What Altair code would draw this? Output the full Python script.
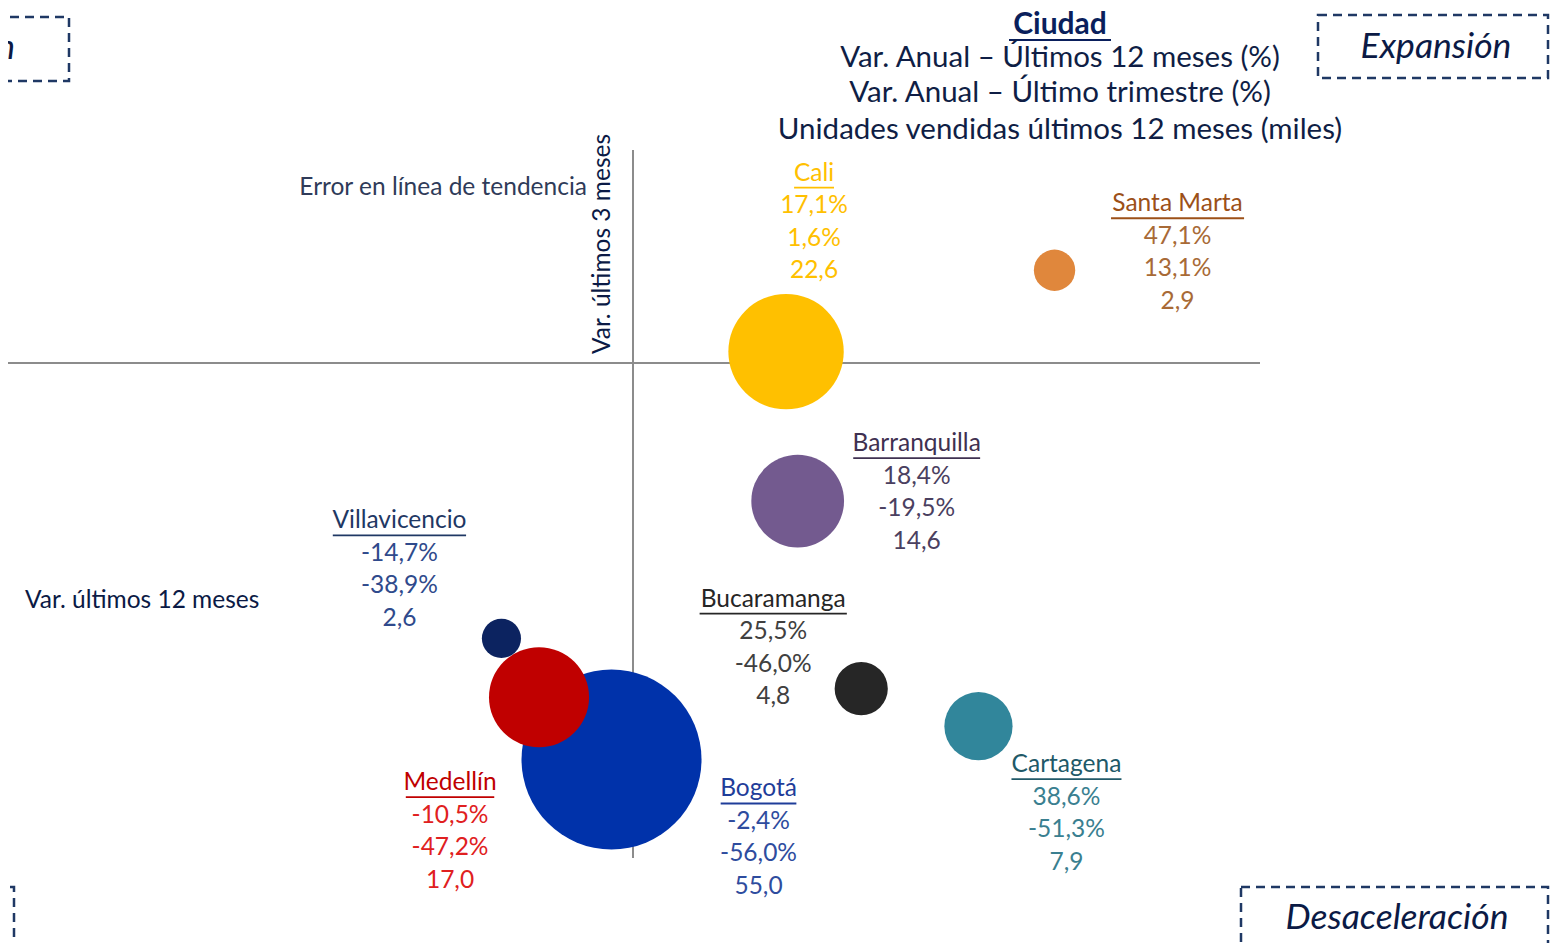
import altair as alt
import pandas as pd

# ---------------- data ----------------
cities = ["Cali", "Santa Marta", "Barranquilla", "Villavicencio",
          "Bucaramanga", "Medellín", "Bogotá", "Cartagena"]
var12 = [17.1, 47.1, 18.4, -14.7, 25.5, -10.5, -2.4, 38.6]     # Var. últimos 12 meses (%)
var3 = [1.6, 13.1, -19.5, -38.9, -46.0, -47.2, -56.0, -51.3]   # Var. último trimestre (%)
units = [22.6, 2.9, 14.6, 2.6, 4.8, 17.0, 55.0, 7.9]            # miles de unidades

bubble_colors = ["#FFC000", "#E0873C", "#735A8F", "#0C2360",
                 "#262626", "#C00000", "#0032AA", "#31869B"]
name_colors = ["#FFC000", "#9C5018", "#3F3151", "#1F3864",
               "#262626", "#C00000", "#1F3D99", "#215968"]
value_colors = ["#FFC000", "#A86A36", "#4A4060", "#2F4A8C",
                "#404040", "#E02020", "#2E4C9E", "#3A7F90"]

title_lines = ["Var. Anual – Últimos 12 meses (%)",
               "Var. Anual – Último trimestre (%)",
               "Unidades vendidas últimos 12 meses (miles)"]

# ---------------- layout ----------------
W, H = 1542, 935
X0, XS = 633, 8.95   # page px of x=0, px per unit
Y0, YS = 363, 7.08   # page px of y=0, px per unit
FONT = "Lato"
NAVY = "#0B1A45"


def px_x(p):
    return (p - X0) / XS


def px_y(p):
    return (Y0 - p) / YS


XDOM = [px_x(8), px_x(8 + W)]
YDOM = [px_y(8 + H), px_y(8)]
xs = alt.Scale(domain=XDOM, nice=False, zero=False)
ys = alt.Scale(domain=YDOM, nice=False, zero=False)

# label offsets (px) from bubble centre to the label's name line
label_off = {
    "Cali": (28, -178), "Santa Marta": (123, -66), "Barranquilla": (119, -57),
    "Villavicencio": (-102, -117), "Bucaramanga": (-88, -89),
    "Medellín": (-89, 86), "Bogotá": (147, 30), "Cartagena": (88, 39),
}
LINE_H = 32.5
LABEL_FS = 24.5


def text_w(s, fs):
    w = 0.0
    for ch in s:
        if ch in "ilíj.,|'":
            w += 0.23
        elif ch in "frt":
            w += 0.36
        elif ch == " ":
            w += 0.26
        elif ch in "mM":
            w += 0.84
        elif ch.isupper():
            w += 0.65
        elif ch.isdigit():
            w += 0.58
        else:
            w += 0.52
    return w * fs


def fmt(v, pct=True):
    s = f"{v:.1f}".replace(".", ",")
    return s + "%" if pct else s


# ---------------- tables ----------------
bub = pd.DataFrame({"city": cities, "x": var12, "y": var3, "u": units, "c": bubble_colors})

lab_rows, ul_rows = [], []
for i, c in enumerate(cities):
    bx = X0 + var12[i] * XS
    by = Y0 - var3[i] * YS
    ox, oy = label_off[c]
    lx, ly = bx + ox, by + oy
    lines = [c, fmt(var12[i]), fmt(var3[i]), fmt(units[i], pct=False)]
    for k, t in enumerate(lines):
        lab_rows.append({"x": px_x(lx), "y": px_y(ly + k * LINE_H), "t": t,
                         "c": name_colors[i] if k == 0 else value_colors[i]})
    w = text_w(c, LABEL_FS)
    ul_rows.append({"x": px_x(lx - w / 2), "x2": px_x(lx + w / 2),
                    "y": px_y(ly + 14), "c": name_colors[i]})
labs = pd.DataFrame(lab_rows)
uls = pd.DataFrame(ul_rows)

# ---------------- layers ----------------
axes_df = pd.DataFrame({
    "x": [px_x(7), 0.0], "x2": [px_x(1260), 0.0],
    "y": [0.0, px_y(858)], "y2": [0.0, px_y(150)],
})
axes = alt.Chart(axes_df).mark_rule(color="#8C8C8C", strokeWidth=2).encode(
    x=alt.X("x:Q", scale=xs, axis=None), x2="x2:Q",
    y=alt.Y("y:Q", scale=ys, axis=None), y2="y2:Q")

circles = alt.Chart(bub).mark_circle(opacity=1).encode(
    x=alt.X("x:Q", scale=xs, axis=None),
    y=alt.Y("y:Q", scale=ys, axis=None),
    size=alt.Size("u:Q", scale=alt.Scale(domain=[0, 55], range=[0, 32400]), legend=None),
    color=alt.Color("c:N", scale=None),
    order=alt.Order("u:Q", sort="descending"))

labels = alt.Chart(labs).mark_text(font=FONT, fontSize=LABEL_FS, baseline="middle",
                                   align="center").encode(
    x=alt.X("x:Q", scale=xs, axis=None), y=alt.Y("y:Q", scale=ys, axis=None),
    text="t:N", color=alt.Color("c:N", scale=None))

underlines = alt.Chart(uls).mark_rule(strokeWidth=1.8).encode(
    x=alt.X("x:Q", scale=xs, axis=None), x2="x2:Q",
    y=alt.Y("y:Q", scale=ys, axis=None), color=alt.Color("c:N", scale=None))


def txt(s, px, py, fs, color=NAVY, align="center", weight="normal", style="normal", angle=0):
    df = pd.DataFrame({"x": [px_x(px)], "y": [px_y(py)], "t": [s]})
    kw = dict(font=FONT, fontSize=fs, align=align, baseline="middle", color=color,
              fontWeight=weight, fontStyle=style)
    if angle:
        kw["angle"] = angle
    return alt.Chart(df).mark_text(**kw).encode(
        x=alt.X("x:Q", scale=xs, axis=None), y=alt.Y("y:Q", scale=ys, axis=None), text="t:N")


title_layers = [txt("Ciudad", 1060, 25, 30, color="#0A1F5C", weight="bold")]
title_y = [58, 93, 130]
for k, t in enumerate(title_lines):
    title_layers.append(txt(t, 1060, title_y[k], 29.5, color="#0F1E45"))
ciudad_ul = alt.Chart(pd.DataFrame({"x": [px_x(1009)], "x2": [px_x(1111)], "y": [px_y(40)]})).mark_rule(
    strokeWidth=2.2, color="#0A1F5C").encode(
    x=alt.X("x:Q", scale=xs, axis=None), x2="x2:Q", y=alt.Y("y:Q", scale=ys, axis=None))

other_text = [
    txt("Error en línea de tendencia", 587, 188, 24.5, color="#2F3B59", align="right"),
    txt("Var. últimos 3 meses", 603, 244, 24.5, color=NAVY, angle=270),
    txt("Var. últimos 12 meses", 25, 601, 24.5, color=NAVY, align="left"),
    txt("Expansión", 1436, 47, 35.5, color="#0B1A45", style="italic"),
    txt("Desaceleración", 1397, 918, 35.5, color="#0B1A45", style="italic"),
    txt("Recuperación", 15, 48, 35.5, color="#0B1A45", style="italic", align="right"),
    txt("Contracción", 14 - 125, 918, 35.5, color="#0B1A45", style="italic"),
]

boxes_df = pd.DataFrame({
    "x": [px_x(1318), px_x(1241), px_x(-170), px_x(-230)],
    "x2": [px_x(1548), px_x(1548), px_x(69), px_x(14)],
    "y": [px_y(15), px_y(887), px_y(17), px_y(887)],
    "y2": [px_y(78), px_y(960), px_y(81), px_y(960)],
})
boxes = alt.Chart(boxes_df).mark_rect(fillOpacity=0, stroke="#1F3864", strokeWidth=2.5,
                                      strokeDash=[9, 6]).encode(
    x=alt.X("x:Q", scale=xs, axis=None), x2="x2:Q",
    y=alt.Y("y:Q", scale=ys, axis=None), y2="y2:Q")

chart = alt.layer(
    axes, circles, underlines, labels, ciudad_ul, boxes, *title_layers, *other_text
).properties(width=W, height=H, padding=0, autosize="none").configure_view(stroke=None)

chart.save("out.html", embed_options={"renderer": "svg", "actions": False})
